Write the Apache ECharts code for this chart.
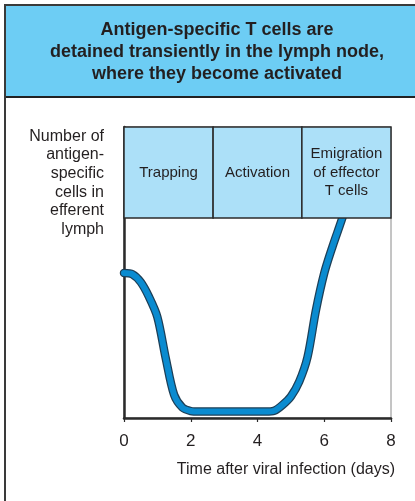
<!DOCTYPE html>
<html>
<head>
<meta charset="utf-8">
<script src="https://cdn.jsdelivr.net/npm/echarts@6/dist/echarts.min.js"></script>
<style>
  html, body { margin: 0; padding: 0; background: #fff; }
  #chart { width: 415px; height: 501px; }
</style>
</head>
<body>
<div id="chart"></div>
<script>
// Days after infection (x) and relative cell number in efferent lymph (y, 0-100 scale)
const days   = [0, 0.25, 0.5, 0.75, 1.0, 1.25, 1.5, 1.75, 2.0, 2.25, 2.5, 3.0, 3.5, 4.0, 4.25, 4.5, 4.75, 5.0, 5.25, 5.5, 5.75, 6.0, 6.25, 6.5, 6.75];
const counts = [49.8, 49.4, 46.7, 41.6, 34.7, 20.6, 8.0, 3.6, 2.4, 2.2, 2.2, 2.2, 2.2, 2.2, 2.2, 2.5, 4.5, 7.4, 12.5, 21, 37, 49.8, 59, 67.3, 76];

// Phases shown across the top of the plot
const phaseNames  = ['Trapping', 'Activation', 'Emigration\nof effector\nT cells'];
const phaseStarts = [0, 2.67, 5.33];
const phaseEnds   = [2.67, 5.33, 8];
const bandBottom = 68.7;
const bandTop = 100;

const xTicks = [0, 2, 4, 6, 8];

const titleLines = ['Antigen-specific T cells are', 'detained transiently in the lymph node,', 'where they become activated'];
const yLabelLines = ['Number of', 'antigen-', 'specific', 'cells in', 'efferent', 'lymph'];
const xLabel = 'Time after viral infection (days)';

const FONT = '"Liberation Sans", Arial, Helvetica, sans-serif';
const INK = '#231f20';

const curve = days.map((d, i) => [d, counts[i]]);
const phases = phaseNames.map((n, i) => [phaseStarts[i], phaseEnds[i], n]);

const chart = echarts.init(document.getElementById('chart'), null, { renderer: 'canvas' });

chart.setOption({
  animation: false,
  backgroundColor: '#fff',
  textStyle: { fontFamily: FONT },
  title: [
    {
      text: titleLines.join('\n'), left: 212, top: 14, textAlign: 'center',
      textStyle: { color: INK, fontSize: 18, fontWeight: 'bold', fontFamily: FONT, lineHeight: 22 }
    },
    {
      text: yLabelLines.join('\n'), left: 99, top: 122, textAlign: 'right',
      textStyle: { color: INK, fontSize: 16, fontWeight: 'normal', fontFamily: FONT, lineHeight: 18.6 }
    },
    {
      text: xLabel, right: 15, top: 457,
      textStyle: { color: INK, fontSize: 16, fontWeight: 'normal', fontFamily: FONT }
    }
  ],
  grid: {
    left: 124, right: 24, top: 127, bottom: 83,
    show: true, borderColor: '#8a8a8a', borderWidth: 1
  },
  xAxis: {
    type: 'value', min: 0, max: 8, interval: 2,
    axisLine: { show: true, lineStyle: { color: '#2b2b2b', width: 2.5 } },
    axisTick: { show: true, length: 4, lineStyle: { color: '#2b2b2b', width: 1.2 } },
    axisLabel: {
      fontSize: 17, color: INK, fontFamily: FONT, margin: 15,
      formatter: v => xTicks.includes(v) ? String(v) : ''
    },
    splitLine: { show: false }
  },
  yAxis: {
    type: 'value', min: 0, max: 100,
    axisLine: { show: true, lineStyle: { color: '#2b2b2b', width: 2.5 } },
    axisTick: { show: false },
    axisLabel: { show: false },
    splitLine: { show: false }
  },
  series: [
    {
      // dark outline of the curve
      type: 'line', data: curve, smooth: 0.3,
      symbol: 'none', z: 2,
      lineStyle: { color: '#1d3f57', width: 8.5, cap: 'round', join: 'round' }
    },
    {
      type: 'line', data: curve, smooth: 0.3,
      symbol: 'none', z: 3,
      lineStyle: { color: '#0a8bd0', width: 6, cap: 'round', join: 'round' }
    },
    {
      // phase boxes across the top, drawn above the curve
      type: 'custom', data: phases, z: 10, silent: true,
      renderItem: (params, api) => {
        const p0 = api.coord([api.value(0), bandTop]);
        const p1 = api.coord([api.value(1), bandBottom]);
        return {
          type: 'rect',
          shape: { x: p0[0], y: p0[1], width: p1[0] - p0[0], height: p1[1] - p0[1] },
          style: { fill: '#ace0f8', stroke: '#2b2b2b', lineWidth: 1.5 },
          textContent: {
            style: {
              text: phases[params.dataIndex][2], fill: INK,
              font: '15px ' + FONT, lineHeight: 18.5, align: 'center'
            }
          },
          textConfig: { position: 'inside' }
        };
      }
    }
  ],
  graphic: [
    // header panel and frame
    {
      type: 'rect', z: -1, silent: true,
      shape: { x: 6, y: 5, width: 420, height: 92 },
      style: { fill: '#6dcdf4' }
    },
    {
      type: 'line', z: 1,
      shape: { x1: 5, y1: 5, x2: 415, y2: 5 },
      style: { stroke: '#3a3a3a', lineWidth: 2 }
    },
    {
      type: 'line', z: 1,
      shape: { x1: 5, y1: 97, x2: 415, y2: 97 },
      style: { stroke: '#222', lineWidth: 2 }
    },
    {
      type: 'line', z: 1,
      shape: { x1: 5, y1: 4, x2: 5, y2: 501 },
      style: { stroke: '#3a3a3a', lineWidth: 2 }
    }
  ]
});
</script>
</body>
</html>
